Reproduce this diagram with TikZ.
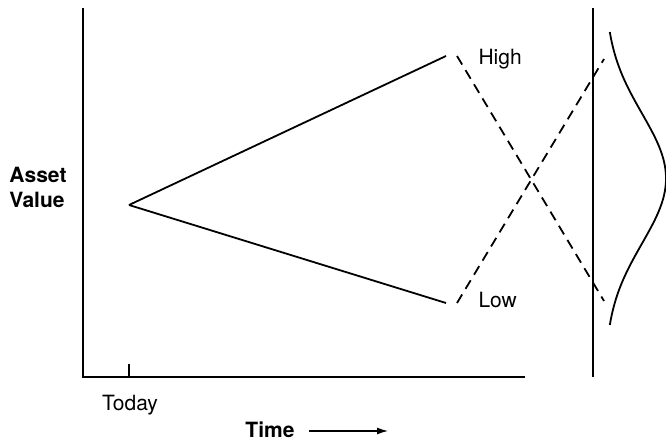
\documentclass[tikz,border=0pt]{standalone}
\usepackage{fontspec}
\setmainfont{TeX Gyre Heros}
\usetikzlibrary{arrows.meta}

\begin{document}
\begin{tikzpicture}[x=1pt,y=-1pt,font=\fontsize{21}{25}\selectfont]
\useasboundingbox (0,0) rectangle (666,443);

\coordinate (O) at (83,377);
\coordinate (Ytop) at (83,8);
\coordinate (Xend) at (525,377);
\coordinate (T1) at (129,364);
\coordinate (T2) at (129,377);

\coordinate (S) at (129,205);
\coordinate (H) at (446,56);
\coordinate (L) at (446,303);
\coordinate (H2) at (457,56);
\coordinate (L2) at (457,303);
\coordinate (Hend) at (604,59);
\coordinate (Lend) at (604,301);

\coordinate (V1) at (593,8);
\coordinate (V2) at (593,377);

\draw[line width=2.6pt] (Ytop) -- (O) -- (Xend);
\draw[line width=1.3pt] (T1) -- (T2);

\path[line width=1.8pt] (S) edge (H);
\path[line width=1.8pt] (S) edge (L);
\path[line width=1.8pt, dash pattern=on 10pt off 6.5pt] (H2) edge (Lend);
\path[line width=1.8pt, dash pattern=on 10pt off 6.5pt] (L2) edge (Hend);

\draw[line width=2pt] (V1) -- (V2);

% rotated bell curve
\draw[line width=1.8pt] plot[domain=32:325, samples=90, smooth]
  ({605+61*exp(-0.5*((\x-178.5)/65)^2)}, \x);

\node[align=left, font=\fontsize{21}{25}\selectfont\bfseries] (asset) at (38,187) {Asset\\Value};
\node[anchor=west] (high) at (475,59) {High};
\node[anchor=west] (low) at (475,300) {Low};
\node (today) at (130,405) {Today};
\node[font=\fontsize{21}{25}\selectfont\bfseries] (time) at (270,430) {Time};
\coordinate (A1) at (309,431);
\coordinate (A2) at (388,431);
\draw[line width=1.3pt, -{Latex[length=11pt,width=7pt]}] (A1) -- (A2);

\end{tikzpicture}
\end{document}
